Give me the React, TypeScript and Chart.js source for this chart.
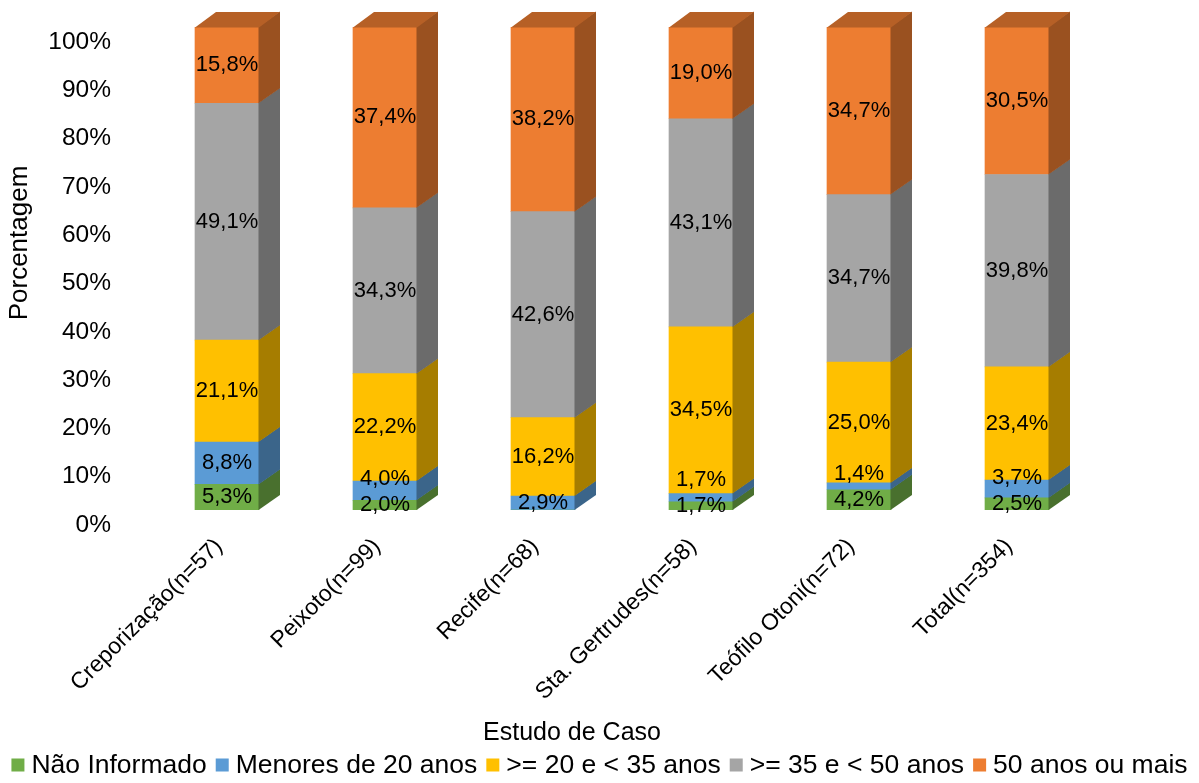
import { useEffect, useRef } from "react";
import { Chart, registerables } from "chart.js";

Chart.register(...registerables);

const categories = [
  "Creporização(n=57)",
  "Peixoto(n=99)",
  "Recife(n=68)",
  "Sta. Gertrudes(n=58)",
  "Teófilo Otoni(n=72)",
  "Total(n=354)",
];
const seriesNames = [
  "Não Informado",
  "Menores de 20 anos",
  ">= 20 e < 35 anos",
  ">= 35 e < 50 anos",
  "50 anos ou mais",
];
const naoInformado = [5.3, 2.0, 0, 1.7, 4.2, 2.5];
const menores20 = [8.8, 4.0, 2.9, 1.7, 1.4, 3.7];
const de20a35 = [21.1, 22.2, 16.2, 34.5, 25.0, 23.4];
const de35a50 = [49.1, 34.3, 42.6, 43.1, 34.7, 39.8];
const mais50 = [15.8, 37.4, 38.2, 19.0, 34.7, 30.5];
const yTickValues = [0, 10, 20, 30, 40, 50, 60, 70, 80, 90, 100];
const xAxisTitle = "Estudo de Caso";
const yAxisTitle = "Porcentagem";

const seriesValues = [naoInformado, menores20, de20a35, de35a50, mais50];
const seriesColors = ["#70AD47", "#5B9BD5", "#FFC000", "#A5A5A5", "#ED7D31"];

const FONT = "'Liberation Sans', Arial, sans-serif";
const DEPTH_X = 21;
const DEPTH_Y = -15;

const totals = categories.map((_, i) =>
  seriesValues.reduce((s, arr) => s + arr[i], 0)
);

function shade(hex: string, f: number) {
  const n = parseInt(hex.slice(1), 16);
  const r = Math.round(((n >> 16) & 255) * f);
  const g = Math.round(((n >> 8) & 255) * f);
  const b = Math.round((n & 255) * f);
  return `rgb(${r},${g},${b})`;
}

const fmt = (v: number) => v.toFixed(1).replace(".", ",") + "%";

const bar3dPlugin = {
  id: "bar3d",
  afterDatasetsDraw(chart: any) {
    const ctx = chart.ctx;
    const n = chart.data.datasets.length;
    ctx.save();
    for (let d = 0; d < n; d++) {
      const meta = chart.getDatasetMeta(d);
      meta.data.forEach((el: any, i: number) => {
        const p = el.getProps(["x", "y", "base", "width"], true);
        const top = Math.min(p.y, p.base);
        const bottom = Math.max(p.y, p.base);
        if (bottom - top < 0.01) return;
        const left = p.x - p.width / 2;
        const right = p.x + p.width / 2;
        ctx.fillStyle = shade(seriesColors[d], 0.65);
        ctx.beginPath();
        ctx.moveTo(right - 0.5, bottom);
        ctx.lineTo(right + DEPTH_X, bottom + DEPTH_Y);
        ctx.lineTo(right + DEPTH_X, top + DEPTH_Y - 0.5);
        ctx.lineTo(right - 0.5, top - 0.5);
        ctx.closePath();
        ctx.fill();
        let topmost = true;
        for (let k = d + 1; k < n; k++) if (seriesValues[k][i] > 0) topmost = false;
        if (topmost) {
          ctx.fillStyle = shade(seriesColors[d], 0.77);
          ctx.beginPath();
          ctx.moveTo(left, top + 0.5);
          ctx.lineTo(left + DEPTH_X, top + DEPTH_Y);
          ctx.lineTo(right + DEPTH_X, top + DEPTH_Y);
          ctx.lineTo(right, top + 0.5);
          ctx.closePath();
          ctx.fill();
        }
      });
    }
    ctx.font = `22px ${FONT}`;
    ctx.fillStyle = "#000";
    ctx.textAlign = "center";
    ctx.textBaseline = "middle";
    for (let i = 0; i < categories.length; i++) {
      let prev: number | null = null;
      for (let d = 0; d < n; d++) {
        const v = seriesValues[d][i];
        if (!(v > 0)) continue;
        const el = chart.getDatasetMeta(d).data[i];
        const p = el.getProps(["x", "y", "base"], true);
        let cy = (p.y + p.base) / 2;
        if (prev !== null && prev - cy < 24) cy = prev - 26;
        ctx.fillText(fmt(v), p.x, cy);
        prev = cy;
      }
    }
    ctx.restore();
  },
};

const titlesAndLegendPlugin = {
  id: "titlesAndLegend",
  afterDraw(chart: any) {
    const ctx = chart.ctx;
    ctx.save();
    ctx.fillStyle = "#000";
    ctx.textAlign = "center";
    ctx.textBaseline = "middle";
    ctx.font = `25px ${FONT}`;
    ctx.fillText(xAxisTitle, 564, 725);
    ctx.save();
    ctx.translate(12, 235);
    ctx.rotate(-Math.PI / 2);
    ctx.font = `26px ${FONT}`;
    ctx.fillText(yAxisTitle, 0, 0);
    ctx.restore();

    // legend
    const BOX = 13;
    const GAP_TEXT = 7;
    const GAP_ITEM = 9;
    ctx.font = `26.5px ${FONT}`;
    ctx.textAlign = "left";
    const items = chart.data.datasets.map((ds: any) => ({
      text: ds.label as string,
      color: ds.backgroundColor as string,
      w: ctx.measureText(ds.label).width,
    }));
    const total =
      items.reduce((s: number, it: any) => s + BOX + GAP_TEXT + it.w, 0) +
      GAP_ITEM * (items.length - 1);
    let x = (chart.width - total) / 2;
    const y = 757;
    items.forEach((it: any) => {
      ctx.fillStyle = it.color;
      ctx.fillRect(x, y - BOX / 2, BOX, BOX);
      x += BOX + GAP_TEXT;
      ctx.fillStyle = "#000";
      ctx.fillText(it.text, x, y + 1);
      x += it.w + GAP_ITEM;
    });
    ctx.restore();
  },
};

export default function App() {
  const canvasRef = useRef<HTMLCanvasElement | null>(null);

  useEffect(() => {
    if (!canvasRef.current) return;
    const chart = new Chart(canvasRef.current, {
      type: "bar",
      data: {
        labels: categories,
        datasets: seriesValues.map((vals, d) => ({
          label: seriesNames[d],
          data: vals.map((v, i) => (v / totals[i]) * 100),
          backgroundColor: seriesColors[d],
          borderWidth: 0,
          barThickness: 64,
        })),
      },
      options: {
        responsive: true,
        maintainAspectRatio: false,
        animation: false,
        layout: { padding: { top: 19, right: 0, bottom: 0, left: 0 } },
        plugins: {
          legend: { display: false },
          tooltip: { enabled: false },
        },
        scales: {
          x: {
            stacked: true,
            grid: { display: false, drawTicks: false },
            border: { display: false },
            ticks: {
              autoSkip: false,
              maxRotation: 45,
              minRotation: 45,
              padding: 23,
              labelOffset: -8,
              color: "#000",
              font: { family: FONT, size: 23 },
            },
            afterFit: (s: any) => {
              s.height = 265;
            },
          },
          y: {
            stacked: true,
            min: 0,
            max: 100,
            grid: { display: false, drawTicks: false },
            border: { display: false },
            afterBuildTicks: (s: any) => {
              s.ticks = yTickValues.map((v) => ({ value: v }));
            },
            ticks: {
              padding: 37,
              labelOffset: 15,
              color: "#000",
              font: { family: FONT, size: 24.5 },
              callback: (v: any) => v + "%",
            },
            afterFit: (s: any) => {
              s.width = 140;
              s.paddingTop = 0;
              s.paddingBottom = 0;
            },
          },
          yRight: {
            type: "linear",
            position: "right",
            display: true,
            grid: { display: false, drawTicks: false },
            border: { display: false },
            ticks: { display: false },
            afterFit: (s: any) => {
              s.width = 95;
              s.paddingTop = 0;
              s.paddingBottom = 0;
            },
          },
        },
      } as any,
      plugins: [bar3dPlugin, titlesAndLegendPlugin],
    });
    return () => chart.destroy();
  }, []);

  return (
    <div style={{ position: "relative", width: 1183, height: 767 }}>
      <canvas ref={canvasRef} />
    </div>
  );
}
